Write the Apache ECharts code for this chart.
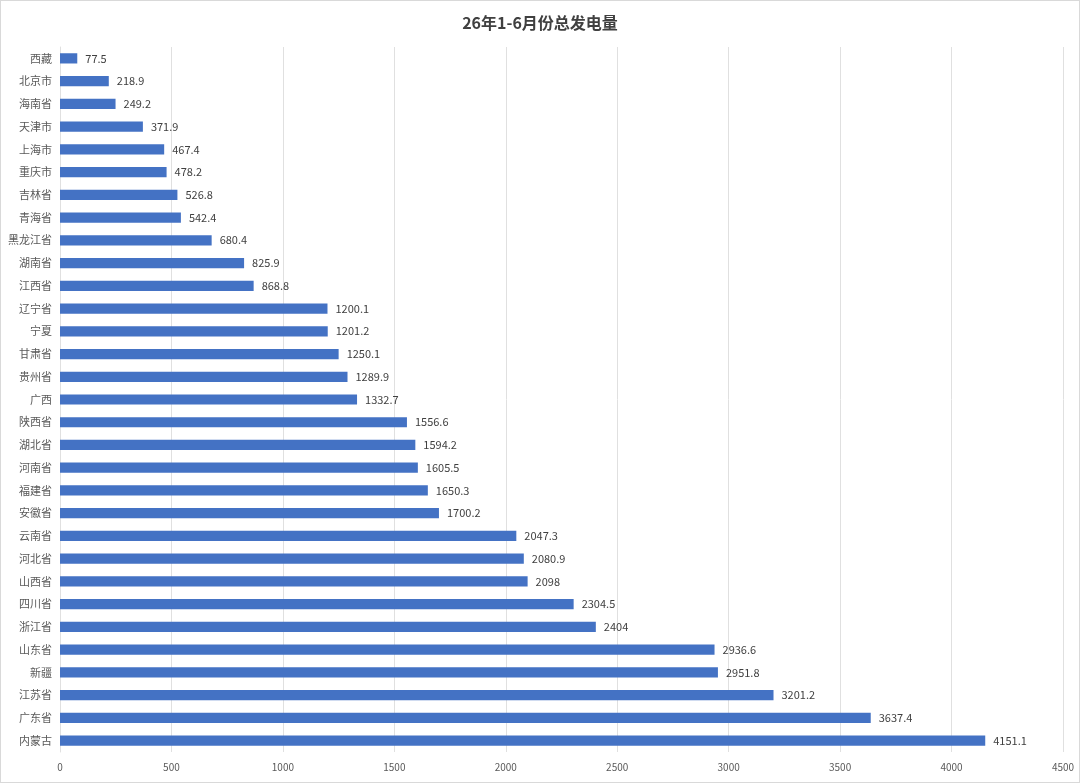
<!DOCTYPE html>
<html>
	<head>
		<meta charset="utf-8" />
		<title>26年1-6月份总发电量</title>
		<script type="text/javascript" src="https://cdn.jsdelivr.net/npm/echarts@6/dist/echarts.min.js"></script>
		<style>
			html, body { margin: 0; padding: 0; background: #fff; }
			#main { width: 1080px; height: 783px; box-sizing: border-box; border: 1px solid #d9d9d9; }
		</style>
	</head>
	<body>
		<div id="main"></div>
		<script>
			// 省份（从上到下）
			var provinces = ['西藏', '北京市', '海南省', '天津市', '上海市', '重庆市', '吉林省', '青海省',
				'黑龙江省', '湖南省', '江西省', '辽宁省', '宁夏', '甘肃省', '贵州省', '广西', '陕西省',
				'湖北省', '河南省', '福建省', '安徽省', '云南省', '河北省', '山西省', '四川省', '浙江省',
				'山东省', '新疆', '江苏省', '广东省', '内蒙古'];
			// 发电量
			var power = [77.5, 218.9, 249.2, 371.9, 467.4, 478.2, 526.8, 542.4,
				680.4, 825.9, 868.8, 1200.1, 1201.2, 1250.1, 1289.9, 1332.7, 1556.6,
				1594.2, 1605.5, 1650.3, 1700.2, 2047.3, 2080.9, 2098, 2304.5, 2404,
				2936.6, 2951.8, 3201.2, 3637.4, 4151.1];
			var xTicks = [0, 500, 1000, 1500, 2000, 2500, 3000, 3500, 4000, 4500];

			var font = '"Microsoft YaHei", "Noto Sans CJK SC", sans-serif';
			var myChart = echarts.init(document.getElementById('main'));

			var option = {
				animation: false,
				textStyle: { fontFamily: font },
				title: {
					text: '26年1-6月份总发电量',
					left: 'center',
					top: 9,
					textStyle: { fontSize: 16, fontWeight: 'bold', color: '#404040', fontFamily: font }
				},
				grid: { left: 59, right: 16, top: 46, bottom: 30, containLabel: false },
				xAxis: {
					type: 'value',
					min: xTicks[0],
					max: xTicks[xTicks.length - 1],
					interval: 500,
					axisLine: { show: false },
					axisTick: { show: false },
					axisLabel: {
						color: '#595959', fontSize: 10, margin: 10,
						formatter: function (v) { return String(v); }
					},
					splitLine: { show: true, lineStyle: { color: '#e0e0e0', width: 1 } }
				},
				yAxis: {
					type: 'category',
					inverse: true,
					data: provinces,
					axisLine: { show: true, lineStyle: { color: '#e0e0e0' } },
					axisTick: { show: false },
					axisLabel: { color: '#595959', fontSize: 11, margin: 8 }
				},
				series: [{
					name: '总发电量',
					type: 'bar',
					data: power,
					barWidth: '45%',
					itemStyle: { color: '#4472C4' },
					label: {
						show: true,
						position: 'right',
						distance: 8,
						color: '#404040',
						fontSize: 11
					}
				}]
			};
			myChart.setOption(option);
		</script>
	</body>
</html>
